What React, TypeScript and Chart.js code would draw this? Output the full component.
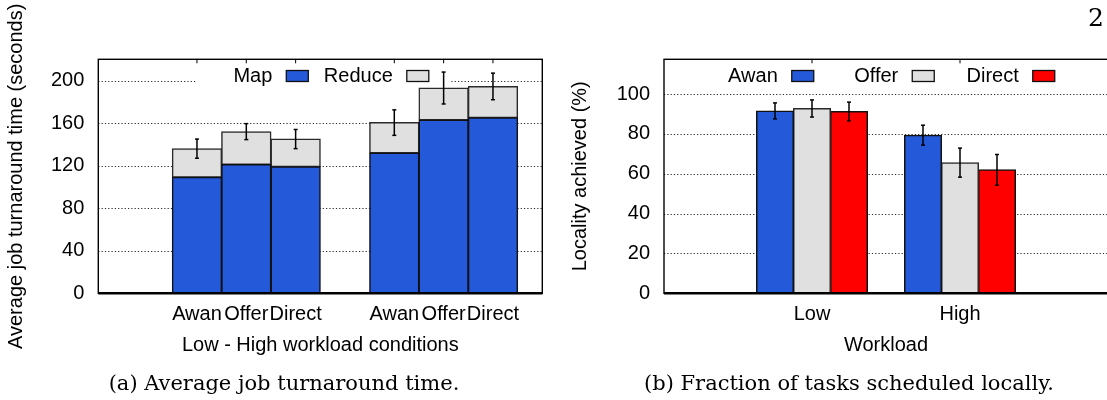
import React, { useEffect, useRef } from 'react';
import { Chart, registerables } from 'chart.js';

Chart.register(...registerables);

// ---------------- data ----------------
const methods = ['Awan', 'Offer', 'Direct'];
const workloads = ['Low', 'High'];

// (a) Average job turnaround time (seconds); order: Low(Awan, Offer, Direct), High(Awan, Offer, Direct)
const mapTime = [109, 121, 119, 132, 163, 165];
const reduceTime = [27, 31, 26, 28.5, 30, 29.5];
const turnaroundErr = [9, 7.5, 9, 12, 15, 12.5];
const turnaroundTicks = [0, 40, 80, 120, 160, 200];
const turnaroundMax = 220;

// (b) Locality achieved (%); order: Low, High
const localityAwan = [91.6, 79.4];
const localityOffer = [92.8, 65.6];
const localityDirect = [91.3, 62];
const localityAwanErr = [4, 5];
const localityOfferErr = [4.3, 7.3];
const localityDirectErr = [4.7, 7.7];
const localityTicks = [0, 20, 40, 60, 80, 100];
const localityMax = 117.5;

// ---------------- styles ----------------
const BLUE = '#2459da';
const GRAY = '#e0e0e0';
const RED = '#ff0000';
const EDGE = '#111111';
const EDGE_GRAY = '#2a2a2a';
const FONT = "'Liberation Sans', Arial, Helvetica, sans-serif";
const SERIF = "'DejaVu Serif', 'Liberation Serif', serif";

// left chart: two empty slots, then groups of bars separated by one empty slot
function padLeft<T>(values: T[], empty: T): T[] {
  const out: T[] = [empty, empty];
  workloads.forEach((_, g) => {
    methods.forEach((_, m) => out.push(values[g * methods.length + m]));
    out.push(empty);
  });
  return out;
}
function padRight<T>(values: T[], empty: T): T[] {
  return [empty, ...values, empty];
}

const decorPlugin = {
  id: 'decor',
  beforeDatasetsDraw(chart: any, _a: any, opts: any) {
    const { ctx, chartArea: ca } = chart;
    const y = chart.scales.y;
    ctx.save();
    // dotted grid
    ctx.strokeStyle = 'rgba(0,0,0,0.85)';
    ctx.lineWidth = 1;
    ctx.setLineDash([1.2, 2.1]);
    for (const v of opts.gridValues) {
      if (v === 0) continue;
      const py = Math.round(y.getPixelForValue(v)) + 0.5;
      ctx.beginPath();
      ctx.moveTo(ca.left, py);
      ctx.lineTo(ca.right, py);
      ctx.stroke();
    }
    ctx.setLineDash([]);
    // gnuplot-like key (text then sample), opaque
    const items = chart.data.datasets.map((d: any) => ({ label: d.label, color: d.backgroundColor }));
    const colW = 120.5;
    const cx = (ca.left + ca.right) / 2;
    const start = cx - (items.length * colW) / 2;
    const ly = ca.top + 16.7;
    ctx.fillStyle = '#fff';
    ctx.fillRect(start - 3, ca.top + 1, items.length * colW + 12, 32);
    ctx.font = `20px ${FONT}`;
    ctx.textAlign = 'right';
    ctx.textBaseline = 'middle';
    items.forEach((it: any, i: number) => {
      const tx = start + i * colW + 72.5;
      ctx.fillStyle = '#000';
      ctx.fillText(it.label, tx, ly);
      const bx = tx + 14;
      ctx.fillStyle = it.color;
      ctx.fillRect(bx, ly - 5.5, 22, 11);
      ctx.strokeStyle = EDGE;
      ctx.lineWidth = 1.3;
      ctx.strokeRect(bx, ly - 5.5, 22, 11);
    });
    ctx.restore();
  },
  afterDatasetsDraw(chart: any, _a: any, opts: any) {
    const { ctx, chartArea: ca } = chart;
    const y = chart.scales.y;
    const xs = chart.scales.x;
    ctx.save();
    const line = (x1: number, y1: number, x2: number, y2: number) => {
      ctx.beginPath();
      ctx.moveTo(x1, y1);
      ctx.lineTo(x2, y2);
      ctx.stroke();
    };
    // error bars
    ctx.strokeStyle = '#000';
    ctx.lineWidth = 1.5;
    for (const eb of opts.errorBars) {
      const meta = chart.getDatasetMeta(eb.datasetIndex);
      meta.data.forEach((el: any, i: number) => {
        const tot = eb.totals[i];
        const e = eb.errors[i];
        if (tot == null || e == null) return;
        const x = el.x;
        const y1 = y.getPixelForValue(tot + e);
        const y2 = y.getPixelForValue(tot - e);
        line(x, y1, x, y2);
        line(x - 2, y1, x + 2, y1);
        line(x - 2, y2, x + 2, y2);
      });
    }
    // border
    ctx.lineWidth = 1.4;
    ctx.strokeRect(ca.left, ca.top, ca.right - ca.left, ca.bottom - ca.top);
    ctx.lineWidth = 2.4;
    line(ca.left, ca.bottom, ca.right, ca.bottom);
    // inward mirror ticks on top border
    ctx.lineWidth = 1;
    xs.ticks.forEach((t: any, i: number) => {
      if (!t.label) return;
      const px = xs.getPixelForTick(i);
      line(px, ca.top, px, ca.top + 4);
    });
    ctx.restore();
  },
};

const tickFont = { size: 20, family: FONT };

const barStyle = { borderWidth: 1.5, borderSkipped: false, inflateAmount: 0.5 };

function leftConfig(): any {
  const labels = padLeft(workloads.flatMap(() => methods), '');
  const totals = padLeft(mapTime.map((m, i) => m + reduceTime[i]), null as any);
  return {
    type: 'bar',
    data: {
      labels,
      datasets: [
        { label: 'Map', data: padLeft(mapTime, null as any), backgroundColor: BLUE, borderColor: EDGE, ...barStyle },
        { label: 'Reduce', data: padLeft(reduceTime, null as any), backgroundColor: GRAY, borderColor: EDGE_GRAY, ...barStyle },
      ],
    },
    options: {
      animation: false,
      responsive: false,
      devicePixelRatio: 1,
      layout: { padding: { left: 0, top: 59.3, right: 17.7, bottom: 36.7 } },
      datasets: { bar: { categoryPercentage: 1, barPercentage: 1 } },
      plugins: {
        legend: { display: false },
        tooltip: { enabled: false },
        decor: {
          gridValues: turnaroundTicks,
          errorBars: [{ datasetIndex: 1, totals, errors: padLeft(turnaroundErr, null as any) }],
        },
      },
      scales: {
        x: {
          stacked: true,
          offset: false,
          grid: { display: false, drawTicks: false },
          border: { display: false },
          ticks: { autoSkip: false, maxRotation: 0, minRotation: 0, padding: 8.7, color: '#000', font: tickFont },
          title: { display: true, text: 'Low - High workload conditions', color: '#000', font: tickFont, padding: { top: 0, bottom: 6.3 } },
          afterFit: (s: any) => { s.height = 70; },
        },
        y: {
          stacked: true,
          min: 0,
          max: turnaroundMax,
          grid: { display: false, drawTicks: false },
          border: { display: false },
          afterBuildTicks: (s: any) => { s.ticks = turnaroundTicks.map((v) => ({ value: v })); },
          ticks: { padding: 14, color: '#000', font: tickFont },
          title: { display: true, text: 'Average job turnaround time (seconds)', color: '#000', font: tickFont, padding: { top: 4, bottom: 0 } },
          afterFit: (s: any) => { s.width = 98.3; },
        },
      },
    },
    plugins: [decorPlugin],
  };
}

function rightConfig(): any {
  const series = [
    { label: 'Awan', values: localityAwan, errs: localityAwanErr, color: BLUE, edge: EDGE },
    { label: 'Offer', values: localityOffer, errs: localityOfferErr, color: GRAY, edge: EDGE_GRAY },
    { label: 'Direct', values: localityDirect, errs: localityDirectErr, color: RED, edge: EDGE },
  ];
  return {
    type: 'bar',
    data: {
      labels: padRight(workloads, ''),
      datasets: series.map((s) => ({
        label: s.label,
        data: padRight(s.values, null as any),
        backgroundColor: s.color,
        borderColor: s.edge,
        ...barStyle,
      })),
    },
    options: {
      animation: false,
      responsive: false,
      devicePixelRatio: 1,
      layout: { padding: { left: 0, top: 59.3, right: 22, bottom: 36.7 } },
      datasets: { bar: { categoryPercentage: 0.75, barPercentage: 1 } },
      plugins: {
        legend: { display: false },
        tooltip: { enabled: false },
        decor: {
          gridValues: localityTicks,
          errorBars: series.map((s, i) => ({ datasetIndex: i, totals: padRight(s.values, null as any), errors: padRight(s.errs, null as any) })),
        },
      },
      scales: {
        x: {
          offset: false,
          grid: { display: false, drawTicks: false },
          border: { display: false },
          ticks: { autoSkip: false, maxRotation: 0, minRotation: 0, padding: 8.7, color: '#000', font: tickFont },
          title: { display: true, text: 'Workload', color: '#000', font: tickFont, padding: { top: 0, bottom: 6.3 } },
          afterFit: (s: any) => { s.height = 70; },
        },
        y: {
          min: 0,
          max: localityMax,
          grid: { display: false, drawTicks: false },
          border: { display: false },
          afterBuildTicks: (s: any) => { s.ticks = localityTicks.map((v) => ({ value: v })); },
          ticks: { padding: 14, color: '#000', font: tickFont },
          title: { display: true, text: 'Locality achieved (%)', color: '#000', font: tickFont, padding: { top: 8.6, bottom: 0 } },
          afterFit: (s: any) => { s.width = 104; },
        },
      },
    },
    plugins: [decorPlugin],
  };
}

export default function App() {
  const leftRef = useRef<HTMLCanvasElement>(null);
  const rightRef = useRef<HTMLCanvasElement>(null);

  useEffect(() => {
    const a = new Chart(leftRef.current as HTMLCanvasElement, leftConfig());
    const b = new Chart(rightRef.current as HTMLCanvasElement, rightConfig());
    return () => {
      a.destroy();
      b.destroy();
    };
  }, []);

  const caption: React.CSSProperties = {
    position: 'absolute',
    top: 370.7,
    textAlign: 'center',
    fontFamily: SERIF,
    fontSize: 21,
    lineHeight: '24px',
    color: '#000',
    whiteSpace: 'nowrap',
  };

  return (
    <div style={{ position: 'fixed', left: 0, top: 0, width: 1107, height: 400, overflow: 'hidden', background: '#fff' }}>
      <canvas ref={leftRef} width={560} height={400} style={{ position: 'absolute', left: 0, top: 0, width: 560, height: 400 }} />
      <canvas ref={rightRef} width={570} height={400} style={{ position: 'absolute', left: 560, top: 0, width: 570, height: 400 }} />
      <div style={{ ...caption, left: 0, width: 568 }}>(a) Average job turnaround time.</div>
      <div style={{ ...caption, left: 549, width: 600 }}>(b) Fraction of tasks scheduled locally.</div>
      <div style={{ position: 'absolute', left: 1088, top: 5.3, fontFamily: SERIF, fontSize: 25, lineHeight: '25px', whiteSpace: 'nowrap' }}>21</div>
    </div>
  );
}
